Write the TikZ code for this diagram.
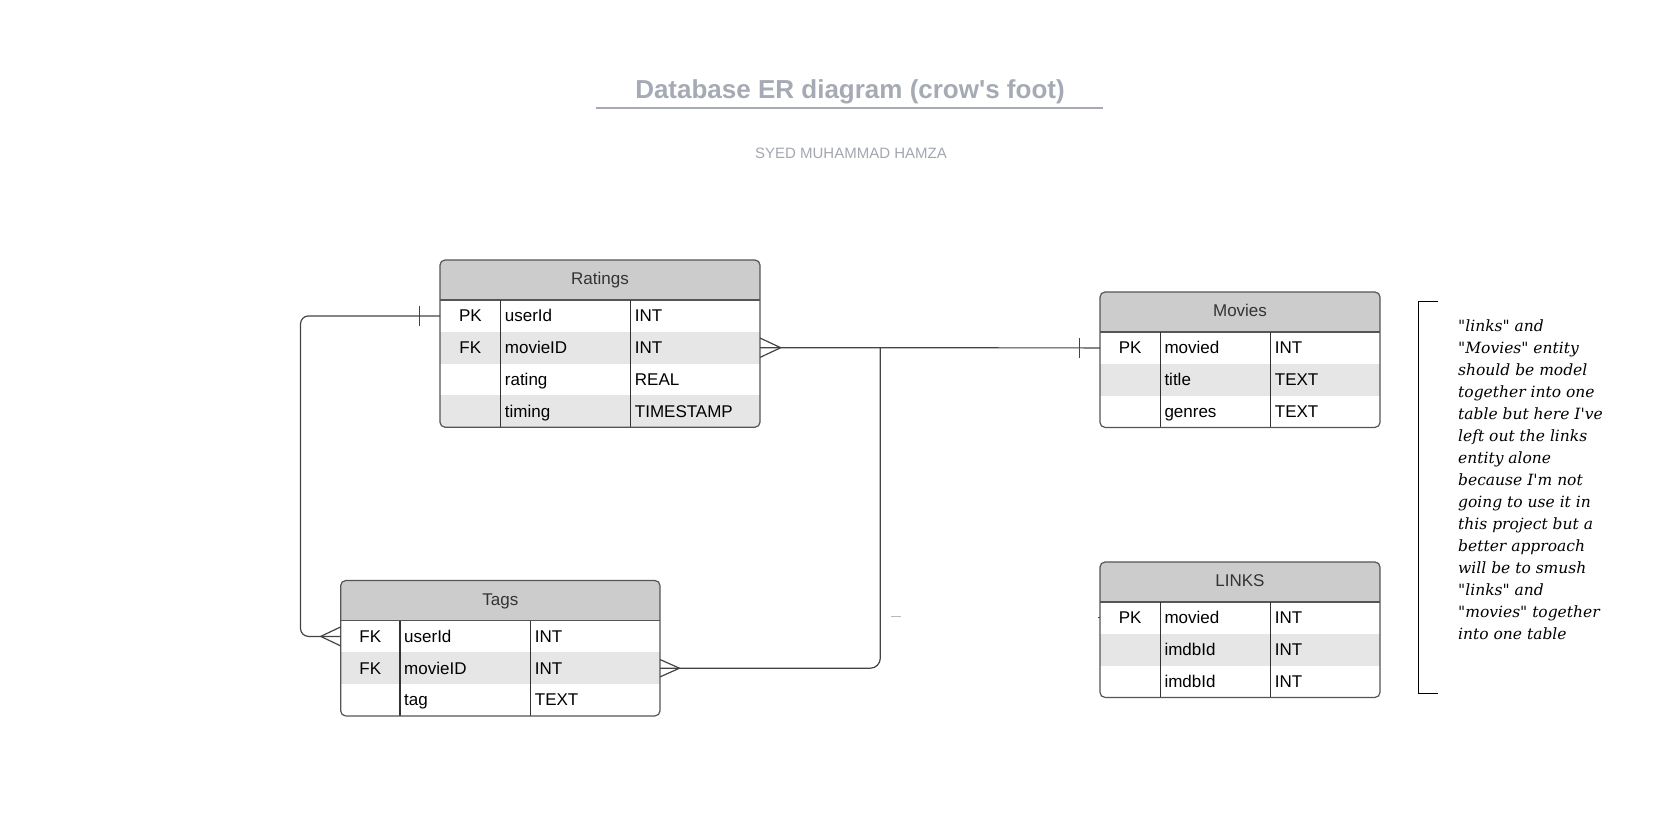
\documentclass[tikz,border=0pt]{standalone}
\usepackage{fontspec}
\setmainfont{Liberation Sans}[Ligatures=TeXOff]
\newfontfamily\notefont{DejaVu Serif}[Ligatures=TeXOff]
\definecolor{titlegray}{HTML}{A5AAB4}
\definecolor{subgray}{HTML}{A3A7B0}
\definecolor{hdrfill}{HTML}{CCCCCC}
\definecolor{altfill}{HTML}{E6E6E6}
\definecolor{bordergray}{HTML}{555555}
\definecolor{conngray}{HTML}{444444}
\definecolor{hdrtextcol}{HTML}{333333}
\tikzset{
  rowbox/.style={draw=none, inner sep=0pt, outer sep=0pt, minimum height=31.8pt},
  celltext/.style={inner sep=0pt, text=black, font=\fontsize{17}{20}\selectfont},
  hdrtext/.style={inner sep=0pt, text=hdrtextcol, font=\fontsize{17}{20}\selectfont},
  divline/.style={draw=black!80, line width=1.1pt},
  tblborder/.style={draw=bordergray, line width=1.2pt},
  conn/.style={draw=conngray, line width=1.2pt},
  notetext/.style={inner sep=0pt, text=black, font=\notefont\itshape\fontsize{15.5}{22}\selectfont},
}
% #1 id, #2 left, #3 top, #4 right, #5 divider 1, #6 divider 2, #7 title, #8 rows, #9 row list
\newcommand\ertab[9]{%
  \pgfmathsetmacro\erB{#3+40+31.8*#8}%
  \begin{scope}
    \clip[rounded corners=5] (#2,#3) rectangle (#4,\erB);
    \fill[hdrfill] (#2,#3) rectangle (#4,#3+40);
    \foreach \k/\ka/\fa/\ta in {#9}{%
      \pgfmathsetmacro\ertop{#3+40+31.8*(\k-1)}%
      \pgfmathsetmacro\ermid{\ertop+15.9}%
      \ifodd\k\relax\else\fill[altfill] (#2,\ertop) rectangle (#4,\ertop+31.8);\fi
      \node[rowbox, minimum width={(#4-#2)*1pt}] (#1-r\k) at ({(#2+#4)/2},\ermid) {};
      \node[celltext, anchor=base] (#1-k\k) at ({(#2+#5)/2},\ermid+5.8) {\ka};
      \node[celltext, anchor=base west] (#1-f\k) at (#5+4,\ermid+5.8) {\fa};
      \node[celltext, anchor=base west] (#1-t\k) at (#6+4,\ermid+5.8) {\ta};
    }
  \end{scope}
  \node[hdrtext, anchor=base] (#1-h) at ({(#2+#4)/2},#3+24.5) {#7};
  \draw[tblborder] (#2,#3+40) -- (#4,#3+40);
  \draw[divline] (#5,#3+40) -- (#5,\erB) (#6,#3+40) -- (#6,\erB);
  \draw[tblborder, rounded corners=5] (#2,#3) rectangle (#4,\erB);
}
\begin{document}
\begin{tikzpicture}[x=1pt, y=-1pt]
\useasboundingbox (0,0) rectangle (1678,831);
\fill[white] (0,0) rectangle (1678,831);

% title
\node[inner sep=0pt, anchor=base, text=titlegray, font=\bfseries\fontsize{26}{30}\selectfont] (title) at (850,98.5) {Database ER diagram (crow's foot)};
\draw[titlegray, line width=2pt] (595.5,108) -- (1102.5,108);
\node[inner sep=0pt, anchor=base, text=subgray, font=\fontsize{15}{18}\selectfont] (author) at (851,158.5) {SYED MUHAMMAD HAMZA};

% tables
\ertab{ratings}{440}{260}{760}{500.7}{630.7}{Ratings}{4}{1/PK/userId/INT, 2/FK/movieID/INT, 3/{}/rating/REAL, 4/{}/timing/TIMESTAMP}
\ertab{movies}{1100}{292}{1380}{1160.3}{1270.7}{Movies}{3}{1/PK/movied/INT, 2/{}/title/TEXT, 3/{}/genres/TEXT}
\ertab{links}{1100}{562}{1380}{1160.3}{1270.7}{LINKS}{3}{1/PK/movied/INT, 2/{}/imdbId/INT, 3/{}/imdbId/INT}
\ertab{tags}{340.7}{580.5}{660}{400}{530.7}{Tags}{3}{1/FK/userId/INT, 2/FK/movieID/INT, 3/{}/tag/TEXT}

% connector: Ratings.userId -- Tags.userId
\coordinate (lbend) at (300.5,0);
\draw[conn, rounded corners=8] (ratings-r1.west) -- (lbend |- ratings-r1.west) -- (lbend |- tags-r1.west) -- (tags-r1.west);
\draw[conn] (ratings-r1.west) ++(-20.7,-10) -- ++(0,20);
\draw[conn] (tags-r1.west) ++(-20,0) -- ++(20,-9.5) ++(-20,9.5) -- ++(20,9.5);

% connector: Ratings.movieID -- Movies.movied
\draw[conn] (ratings-r2.east) -- (movies-r1.west);
\draw[conn] (ratings-r2.east) ++(20.7,0) -- ++(-20.7,-9.7) ++(20.7,9.7) -- ++(-20.7,9.7);
\draw[conn] (movies-r1.west) ++(-20.7,-10) -- ++(0,20);

% connector: Tags.movieID -- junction
\coordinate (jx) at (880.3,0);
\draw[conn, rounded corners=10] (tags-r2.east) -- (jx |- tags-r2.east) -- (jx |- ratings-r2.east);
\draw[conn] (tags-r2.east) ++(19.5,0) -- ++(-19.5,-8.7) ++(19.5,8.7) -- ++(-19.5,8.7);

% stray marks
\draw[gray!55, line width=1pt] (891,616.5) -- (901,616.5);
\draw[conngray, line width=1pt] (1097.5,617.5) -- (1100,617.5);

% note bracket
\coordinate (bt) at (1438.3,301.7);
\coordinate (bb) at (1438.3,693.3);
\draw[black, line width=1.3pt] (bt) -- (1418.3,301.7) -- (1418.3,693.3) -- (bb);

% note text
\foreach \ln [count=\i] in {
  "links" and,
  "Movies" entity,
  should be model,
  together into one,
  table but here I've,
  left out the links,
  entity alone,
  because I'm not,
  going to use it in,
  this project but a,
  better approach,
  will be to smush,
  "links" and,
  "movies" together,
  into one table}{
  \node[notetext, anchor=base west] (note\i) at (1458,{331.7+22*(\i-1)}) {\ln};
}
\end{tikzpicture}
\end{document}
